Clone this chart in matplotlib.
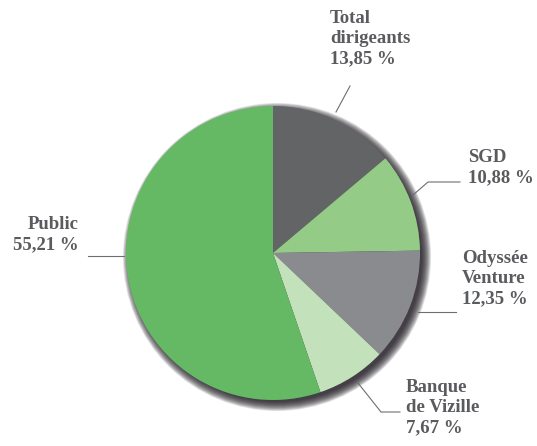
import numpy as np
import matplotlib.pyplot as plt
from matplotlib.patches import Circle

plt.rcParams['font.family'] = 'serif'
plt.rcParams['font.serif'] = ['Liberation Serif', 'DejaVu Serif']

# Shareholding split (percent)
labels = ['Total\ndirigeants', 'SGD', 'Odyssée\nVenture', 'Banque\nde Vizille', 'Public']
values = [13.85, 10.88, 12.35, 7.67, 55.21]
pct_text = ['13,85 %', '10,88 %', '12,35 %', '7,67 %', '55,21 %']
colors = ['#636466', '#94cb87', '#898b8f', '#c3e2bb', '#66b964']

W, H = 537, 446
fig = plt.figure(figsize=(W / 100, H / 100), dpi=100)
ax = fig.add_axes([0, 0, 1, 1])

cx, cy, r = 273, H - 253, 147

# soft drop shadow
for k in range(14):
    ax.add_patch(Circle((cx + 4, cy - 4), r + 7 - k * 0.7, color='#241f26',
                        alpha=0.12, lw=0, zorder=1))

ax.pie(values, colors=colors, startangle=90, counterclock=False,
       center=(cx, cy), radius=r, frame=True,
       wedgeprops=dict(linewidth=0, zorder=2))
ax.set_xlim(0, W)
ax.set_ylim(0, H)
ax.set_aspect('equal')
ax.axis('off')

txt = dict(fontsize=13.5, fontweight='bold', color='#5a5b5e', linespacing=1.25)
lc = dict(color='#6d6e71', lw=0.8, zorder=3)

# leader lines (pixel layout, y from top)
leaders = [
    [(336, 112), (350, 86)],
    [(413, 195), (428, 182), (460, 182)],
    [(418, 312), (456, 312)],
    [(358, 383), (381, 412), (400, 412)],
    [(124, 256), (88, 256)],
]
text_pos = [(330, 10, 'left'), (468, 149, 'left'), (462, 250, 'left'),
            (406, 379, 'left'), (79, 216, 'right')]

for lab, pt, pts, (tx, ty, ha) in zip(labels, pct_text, leaders, text_pos):
    xs = [p[0] for p in pts]
    ys = [H - p[1] for p in pts]
    ax.plot(xs, ys, **lc)
    ax.text(tx, H - ty, lab + '\n' + pt, ha=ha, va='top', **txt)

fig.savefig('out.png', dpi=100)
